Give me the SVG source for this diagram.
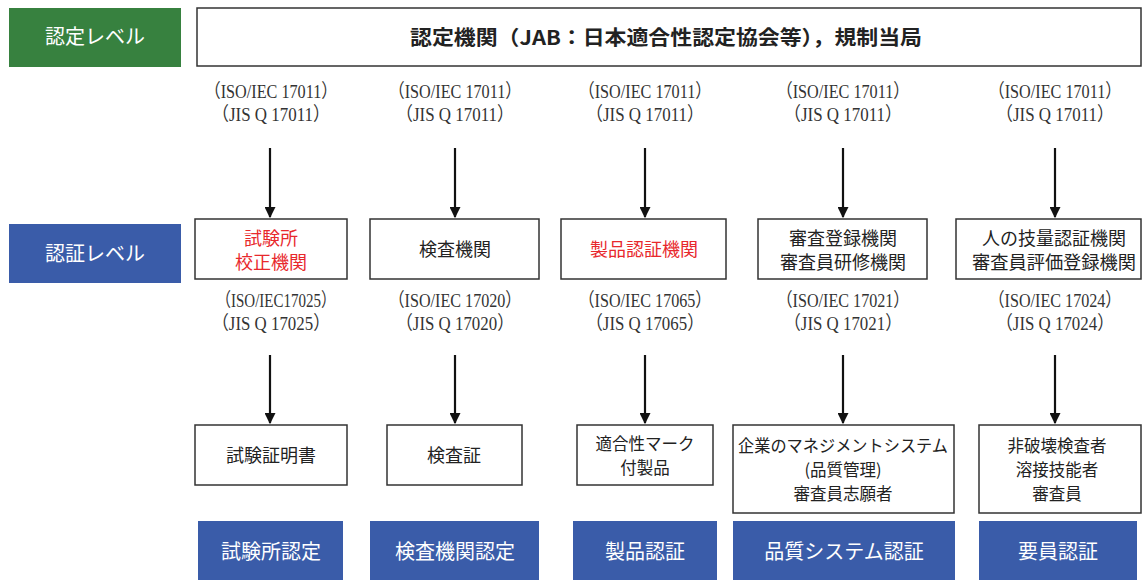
<svg xmlns="http://www.w3.org/2000/svg" width="1143" height="580" viewBox="0 0 1143 580">
<style>
.bg{fill:#ffffff}
.box{fill:#ffffff;stroke:#333333;stroke-width:1.5}
.lvl-g{fill:#37813f}
.lvl-b{fill:#3a5ca9}
.wt{font-family:"Noto Sans CJK JP","Noto Sans",sans-serif;font-size:20px;fill:#ffffff;text-anchor:middle}
.bt{font-family:"Noto Sans CJK JP","Noto Sans",sans-serif;font-size:18px;fill:#222222;text-anchor:middle}
.bs{font-family:"Noto Sans CJK JP","Noto Sans",sans-serif;font-size:16.5px;fill:#222222;text-anchor:middle}
.rt{font-family:"Noto Sans CJK JP","Noto Sans",sans-serif;font-size:18px;fill:#e8282c;text-anchor:middle}
.tt{font-family:"Noto Sans CJK JP","Noto Sans",sans-serif;font-size:20px;font-weight:bold;fill:#222222;text-anchor:middle}
.st{font-family:"Liberation Serif","Noto Sans CJK JP",serif;font-size:19px;fill:#333333;text-anchor:middle}
.ar{stroke:#111111;stroke-width:2.2;fill:none}
</style>
<defs>
<marker id="ah" viewBox="0 0 10 10" refX="9" refY="5" markerWidth="5" markerHeight="5" orient="auto" markerUnits="strokeWidth">
<path d="M0,0 L10,5 L0,10 z" fill="#111111"/>
</marker>
</defs>
<rect class="bg" x="0" y="0" width="1143" height="580"/>

<g id="level-accreditation">
<rect class="lvl-g" x="9" y="8" width="172" height="59"/>
<text class="wt" x="95" y="44">認定レベル</text>
</g>
<g id="accreditation-body">
<rect class="box" x="197" y="8" width="944" height="58"/>
<text class="tt" x="666" y="45" textLength="512" lengthAdjust="spacingAndGlyphs">認定機関（JAB：日本適合性認定協会等），規制当局</text>
</g>
<g id="level-certification">
<rect class="lvl-b" x="9" y="224" width="172" height="59"/>
<text class="wt" x="95" y="261">認証レベル</text>
</g>

<g id="std-row1">
<text class="st" x="271" y="98" textLength="133" lengthAdjust="spacingAndGlyphs">（ISO/IEC 17011）</text>
<text class="st" x="271" y="121" textLength="118" lengthAdjust="spacingAndGlyphs">（JIS Q 17011）</text>
<text class="st" x="455" y="98" textLength="133" lengthAdjust="spacingAndGlyphs">（ISO/IEC 17011）</text>
<text class="st" x="455" y="121" textLength="118" lengthAdjust="spacingAndGlyphs">（JIS Q 17011）</text>
<text class="st" x="645" y="98" textLength="133" lengthAdjust="spacingAndGlyphs">（ISO/IEC 17011）</text>
<text class="st" x="645" y="121" textLength="118" lengthAdjust="spacingAndGlyphs">（JIS Q 17011）</text>
<text class="st" x="843" y="98" textLength="133" lengthAdjust="spacingAndGlyphs">（ISO/IEC 17011）</text>
<text class="st" x="843" y="121" textLength="118" lengthAdjust="spacingAndGlyphs">（JIS Q 17011）</text>
<text class="st" x="1055" y="98" textLength="133" lengthAdjust="spacingAndGlyphs">（ISO/IEC 17011）</text>
<text class="st" x="1055" y="121" textLength="118" lengthAdjust="spacingAndGlyphs">（JIS Q 17011）</text>
</g>

<g id="connectors">
<line class="ar" x1="270" y1="148" x2="270" y2="217" marker-end="url(#ah)"/>
<line class="ar" x1="455" y1="148" x2="455" y2="217" marker-end="url(#ah)"/>
<line class="ar" x1="645" y1="148" x2="645" y2="217" marker-end="url(#ah)"/>
<line class="ar" x1="843" y1="148" x2="843" y2="217" marker-end="url(#ah)"/>
<line class="ar" x1="1055" y1="148" x2="1055" y2="217" marker-end="url(#ah)"/>
<line class="ar" x1="270" y1="355" x2="270" y2="423" marker-end="url(#ah)"/>
<line class="ar" x1="455" y1="355" x2="455" y2="423" marker-end="url(#ah)"/>
<line class="ar" x1="645" y1="355" x2="645" y2="423" marker-end="url(#ah)"/>
<line class="ar" x1="843" y1="355" x2="843" y2="423" marker-end="url(#ah)"/>
<line class="ar" x1="1055" y1="355" x2="1055" y2="423" marker-end="url(#ah)"/>
</g>

<g id="cert-testing-lab">
<rect class="box" x="195" y="219" width="152" height="60"/>
<text class="rt" x="271" y="245">試験所</text>
<text class="rt" x="271" y="269">校正機関</text>
</g>
<g id="cert-inspection-body">
<rect class="box" x="370" y="219" width="169" height="60"/>
<text class="bt" x="455" y="256">検査機関</text>
</g>
<g id="cert-product-body">
<rect class="box" x="561" y="219" width="165" height="60"/>
<text class="rt" x="644" y="256">製品認証機関</text>
</g>
<g id="cert-audit-body">
<rect class="box" x="758" y="219" width="169" height="60"/>
<text class="bt" x="843" y="245">審査登録機関</text>
<text class="bt" x="843" y="269">審査員研修機関</text>
</g>
<g id="cert-person-body">
<rect class="box" x="956" y="219" width="185" height="60"/>
<text class="bt" x="1054" y="245">人の技量認証機関</text>
<text class="bt" x="1054" y="269" textLength="164" lengthAdjust="spacingAndGlyphs">審査員評価登録機関</text>
</g>

<g id="std-row2">
<text class="st" x="276" y="307" textLength="120" lengthAdjust="spacingAndGlyphs">（ISO/IEC17025）</text>
<text class="st" x="271" y="330" textLength="118" lengthAdjust="spacingAndGlyphs">（JIS Q 17025）</text>
<text class="st" x="455" y="307" textLength="133" lengthAdjust="spacingAndGlyphs">（ISO/IEC 17020）</text>
<text class="st" x="455" y="330" textLength="118" lengthAdjust="spacingAndGlyphs">（JIS Q 17020）</text>
<text class="st" x="645" y="307" textLength="133" lengthAdjust="spacingAndGlyphs">（ISO/IEC 17065）</text>
<text class="st" x="645" y="330" textLength="118" lengthAdjust="spacingAndGlyphs">（JIS Q 17065）</text>
<text class="st" x="843" y="307" textLength="133" lengthAdjust="spacingAndGlyphs">（ISO/IEC 17021）</text>
<text class="st" x="843" y="330" textLength="118" lengthAdjust="spacingAndGlyphs">（JIS Q 17021）</text>
<text class="st" x="1055" y="307" textLength="133" lengthAdjust="spacingAndGlyphs">（ISO/IEC 17024）</text>
<text class="st" x="1055" y="330" textLength="118" lengthAdjust="spacingAndGlyphs">（JIS Q 17024）</text>
</g>

<g id="out-test-cert">
<rect class="box" x="195" y="425" width="152" height="60"/>
<text class="bt" x="271" y="462">試験証明書</text>
</g>
<g id="out-inspection-cert">
<rect class="box" x="387" y="425" width="135" height="60"/>
<text class="bt" x="454" y="462">検査証</text>
</g>
<g id="out-marked-product">
<rect class="box" x="577" y="425" width="136" height="60"/>
<text class="bs" x="645" y="450">適合性マーク</text>
<text class="bs" x="645" y="474">付製品</text>
</g>
<g id="out-management-system">
<rect class="box" x="733" y="425" width="221" height="88"/>
<text class="bs" x="843" y="452" textLength="210" lengthAdjust="spacingAndGlyphs">企業のマネジメントシステム</text>
<text class="bs" x="843" y="476">(品質管理)</text>
<text class="bs" x="843" y="500">審査員志願者</text>
</g>
<g id="out-personnel">
<rect class="box" x="979" y="425" width="162" height="88"/>
<text class="bs" x="1057" y="452">非破壊検査者</text>
<text class="bs" x="1057" y="476">溶接技能者</text>
<text class="bs" x="1057" y="500">審査員</text>
</g>

<g id="label-lab-accreditation">
<rect class="lvl-b" x="198" y="521" width="145" height="59"/>
<text class="wt" x="271" y="559">試験所認定</text>
</g>
<g id="label-inspection-accreditation">
<rect class="lvl-b" x="370" y="521" width="169" height="59"/>
<text class="wt" x="455" y="559">検査機関認定</text>
</g>
<g id="label-product-certification">
<rect class="lvl-b" x="573" y="521" width="144" height="59"/>
<text class="wt" x="645" y="559">製品認証</text>
</g>
<g id="label-quality-certification">
<rect class="lvl-b" x="733" y="521" width="222" height="59"/>
<text class="wt" x="844" y="559">品質システム認証</text>
</g>
<g id="label-personnel-certification">
<rect class="lvl-b" x="979" y="521" width="158" height="59"/>
<text class="wt" x="1058" y="559">要員認証</text>
</g>
</svg>
